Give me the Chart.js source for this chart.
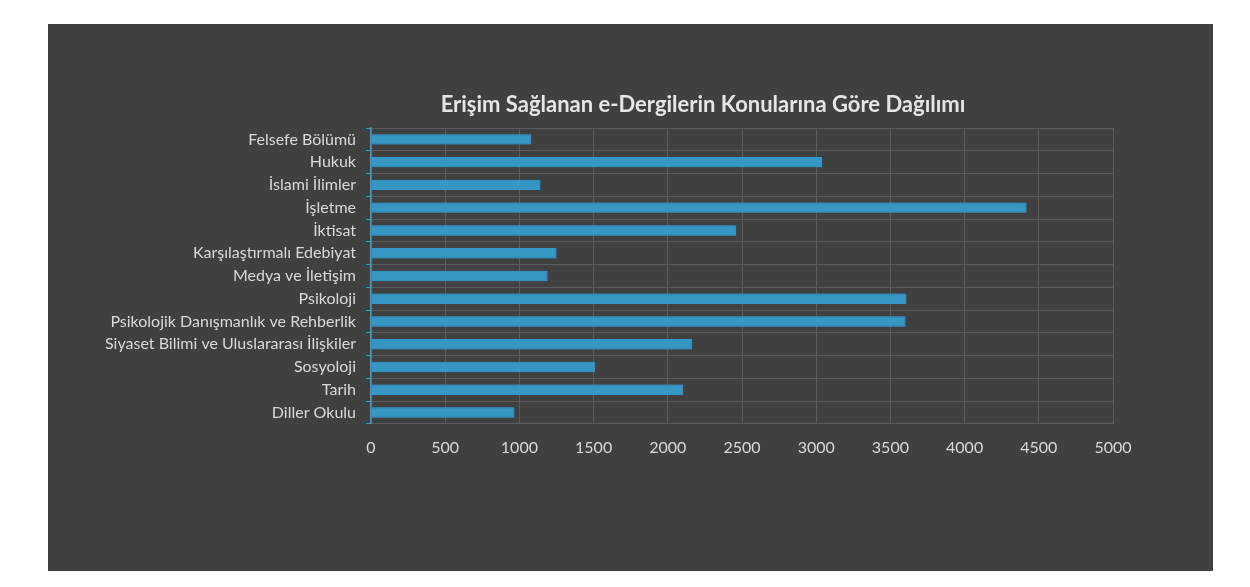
<!DOCTYPE html>
<html>
<head>
<meta charset="utf-8">
<script src="https://cdn.jsdelivr.net/npm/chart.js@4/dist/chart.umd.min.js"></script>
<style>
html,body{margin:0;padding:0;background:#ffffff;}
#wrap{position:absolute;left:48px;top:24px;width:1165px;height:547px;background:#404040;}
canvas{display:block;}
</style>
</head>
<body>
<div id="wrap"><canvas id="c" width="1165" height="547"></canvas></div>
<script>
const chartTitle = 'Erişim Sağlanan e-Dergilerin Konularına Göre Dağılımı';
const categories = [
  'Felsefe Bölümü',
  'Hukuk',
  'İslami İlimler',
  'İşletme',
  'İktisat',
  'Karşılaştırmalı Edebiyat',
  'Medya ve İletişim',
  'Psikoloji',
  'Psikolojik Danışmanlık ve Rehberlik',
  'Siyaset Bilimi ve Uluslararası İlişkiler',
  'Sosyoloji',
  'Tarih',
  'Diller Okulu'
];
const values = [1080, 3040, 1142, 4418, 2461, 1250, 1190, 3608, 3602, 2164, 1511, 2104, 967];
const xMin = 0, xMax = 5000, xStep = 500;

const FONT = 'Lato, "Open Sans", sans-serif';

const glowPlugin = {
  id: 'glow',
  beforeDatasetsDraw(chart) {
    const ctx = chart.ctx;
    ctx.save();
    ctx.shadowColor = 'rgba(40,150,215,0.75)';
    ctx.shadowBlur = 6;
  },
  afterDatasetsDraw(chart) {
    chart.ctx.restore();
  }
};

const titlePlugin = {
  id: 'customTitle',
  afterDraw(chart) {
    const ctx = chart.ctx;
    const a = chart.chartArea;
    ctx.save();
    ctx.fillStyle = '#e6e6e6';
    ctx.font = 'bold 22px ' + FONT;
    ctx.textAlign = 'center';
    ctx.textBaseline = 'middle';
    ctx.fillText(chartTitle, a.left + 332, a.top - 23);
    ctx.restore();
  }
};

new Chart(document.getElementById('c'), {
  type: 'bar',
  data: {
    labels: categories,
    datasets: [{
      data: values,
      backgroundColor: '#3797c4',
      borderColor: 'rgba(60,165,220,0.9)',
      borderWidth: 1,
      barPercentage: 0.46,
      categoryPercentage: 1.0
    }]
  },
  plugins: [glowPlugin, titlePlugin],
  options: {
    indexAxis: 'y',
    responsive: false,
    devicePixelRatio: 1,
    animation: false,
    layout: { padding: { left: 0, right: 100, top: 104, bottom: 100 } },
    plugins: { legend: { display: false }, tooltip: { enabled: false }, title: { display: false } },
    scales: {
      x: {
        min: xMin, max: xMax,
        ticks: { stepSize: xStep, color: '#d9d9d9', font: { family: FONT, size: 16 }, padding: 14,
                 callback: (v) => String(v) },
        grid: { color: '#5c5c5c', lineWidth: 1, drawTicks: false },
        border: { color: '#5c5c5c' }
      },
      y: {
        ticks: { color: '#d9d9d9', font: { family: FONT, size: 16 }, padding: 10, autoSkip: false },
        grid: { color: '#5c5c5c', lineWidth: 1, tickColor: '#3a9cc8', tickLength: 5, offset: true },
        border: { color: '#3a9cc8', width: 1.5 },
        afterFit(scale) { scale.width = 323; }
      }
    }
  }
});
</script>
</body>
</html>
